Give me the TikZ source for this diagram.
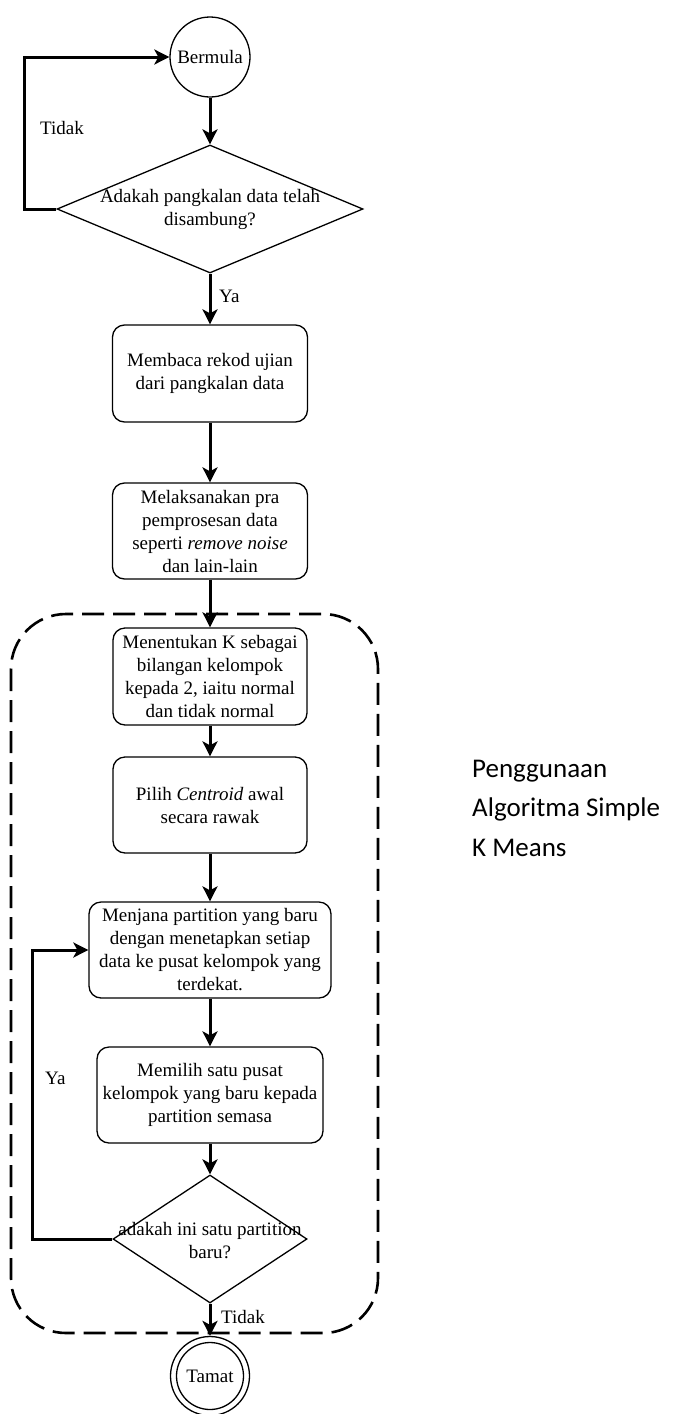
\documentclass[tikz,border=0pt]{standalone}
\usepackage{fontspec}
\setmainfont{Liberation Serif}
\newfontfamily\carlito{Carlito}
\usetikzlibrary{arrows.meta,shapes.geometric}
\begin{document}
\begin{tikzpicture}[x=1pt,y=-1pt,
  txt/.style={font=\fontsize{19}{23}\selectfont},
  box/.style={draw,rounded corners=12pt,line width=1.3pt,align=center,txt,inner sep=0pt},
  dec/.style={draw,diamond,line width=1.3pt,inner sep=0pt},
  arr/.style={line width=3pt,-{Stealth[length=15pt,width=15pt,inset=4pt]}},
  lbl/.style={txt,anchor=west,inner sep=0pt},
  grp/.style={draw,line width=2.6pt,dash pattern=on 22pt off 9pt,rounded corners=55pt}]
\useasboundingbox (0,0) rectangle (680,1414);

% group
\draw[grp] (11,614) rectangle (378,1333);

% nodes
\node[draw,circle,line width=1.3pt,minimum size=80pt,inner sep=0pt,txt] (start) at (210,57) {Bermula};
\node[dec,minimum width=306pt,minimum height=128pt,
  label={[txt,align=center]center:Adakah pangkalan data telah\\disambung?}] (d1) at (210,209) {};
\node[box,minimum width=195pt,minimum height=97pt] (b1) at (210,373.5) {Membaca rekod ujian\\dari pangkalan data};
\node[box,minimum width=195pt,minimum height=96pt] (b2) at (210,531) {Melaksanakan pra\\pemprosesan data\\seperti \textit{remove noise}\\dan lain-lain};
\node[box,minimum width=194pt,minimum height=97pt] (b3) at (210,676.5) {Menentukan K sebagai\\bilangan kelompok\\kepada 2, iaitu normal\\dan tidak normal};
\node[box,minimum width=194pt,minimum height=96pt] (b4) at (210,805) {Pilih \textit{Centroid} awal\\secara rawak};
\node[box,minimum width=242pt,minimum height=96pt] (b5) at (210,950) {Menjana partition yang baru\\dengan menetapkan setiap\\data ke pusat kelompok yang\\terdekat.};
\node[box,minimum width=226pt,minimum height=96pt] (b6) at (210,1095) {Memilih satu pusat\\kelompok yang baru kepada\\partition semasa};
\node[dec,minimum width=194pt,minimum height=128pt,
  label={[txt,align=center,yshift=-2pt]center:adakah ini satu partition\\baru?}] (d2) at (210,1239) {};
\node[draw,circle,line width=1.3pt,minimum size=79pt,inner sep=0pt] (end) at (210,1376) {};
\node[draw,circle,line width=1.3pt,minimum size=67pt,inner sep=0pt,txt] (endin) at (end) {Tamat};

% side label
\node[anchor=west,align=left,inner sep=0pt,font=\carlito\fontsize{27}{39.5}\selectfont] (note) at (472,808) {Penggunaan\\Algoritma Simple\\K Means};

% connectors
\coordinate (l1a) at (24,209);
\coordinate (l1b) at (24,57);
\draw[arr] (start.south) -- (d1.north);
\draw[arr] (d1.west) -- (l1a) -- (l1b) -- (start.west);
\node[lbl] (tidak1) at (40,128) {Tidak};
\draw[arr] (d1.south) -- (b1.north);
\node[lbl] (ya1) at (219,296) {Ya};
\draw[arr] (b1.south) -- (b2.north);
\draw[arr] (b2.south) -- (b3.north);
\draw[arr] (b3.south) -- (b4.north);
\draw[arr] (b4.south) -- (b5.north);
\draw[arr] (b5.south) -- (b6.north);
\draw[arr] (b6.south) -- (d2.north);
\coordinate (l2a) at (32,1239);
\coordinate (l2b) at (32,950);
\draw[arr] (d2.west) -- (l2a) -- (l2b) -- (b5.west);
\node[lbl] (ya2) at (45,1078) {Ya};
\draw[arr] (d2.south) -- (end.north);
\node[lbl] (tidak2) at (221,1317) {Tidak};
\end{tikzpicture}
\end{document}
